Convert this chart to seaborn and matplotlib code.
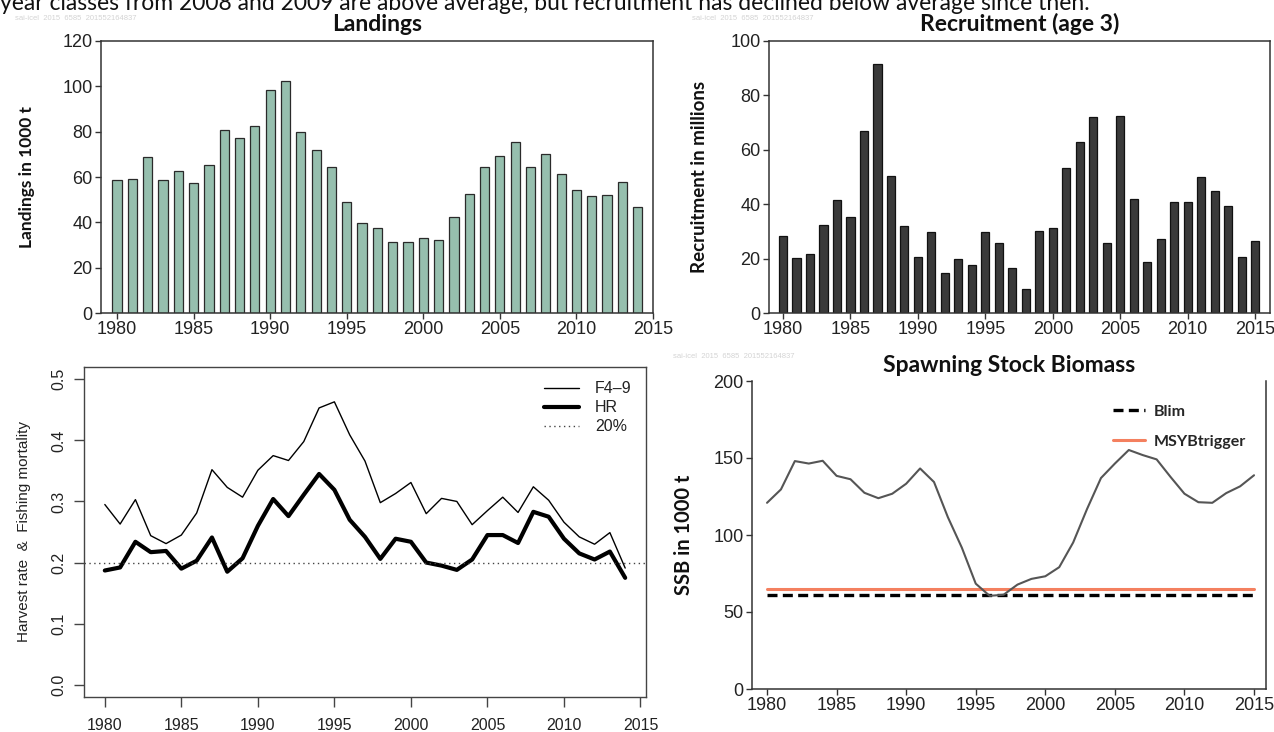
import matplotlib
matplotlib.use("Agg")
import matplotlib.pyplot as plt
import seaborn as sns
import numpy as np
import pandas as pd

# ---------------- data ----------------
land_years = list(range(1980, 2015))
landings = [58.5, 59.3, 68.8, 58.5, 62.8, 57.4, 65.1, 80.9, 77.4, 82.6,
            98.4, 102.5, 79.7, 71.8, 64.6, 48.8, 39.9, 37.4, 31.5, 31.5,
            33.2, 32.2, 42.4, 52.6, 64.6, 69.4, 75.4, 64.6, 70.0, 61.5,
            54.3, 51.5, 52.1, 57.9, 46.6]

rec_years = list(range(1980, 2016))
recruitment = [28.2, 20.2, 21.7, 32.2, 41.7, 35.3, 67.0, 91.5, 50.4, 31.9,
               20.7, 29.8, 14.7, 19.7, 17.8, 29.8, 25.7, 16.7, 8.7, 30.3,
               31.2, 53.4, 62.9, 71.9, 25.7, 72.4, 41.8, 18.8, 27.2, 40.8,
               40.8, 49.9, 44.7, 39.3, 20.7, 26.3]

f_years = list(range(1980, 2015))
f49 = [0.295, 0.263, 0.303, 0.244, 0.231, 0.245, 0.281, 0.352, 0.323, 0.307,
       0.351, 0.375, 0.367, 0.398, 0.453, 0.463, 0.409, 0.366, 0.298, 0.313,
       0.331, 0.280, 0.305, 0.300, 0.262, 0.285, 0.307, 0.282, 0.324, 0.302,
       0.266, 0.242, 0.230, 0.249, 0.191]
hr = [0.187, 0.192, 0.234, 0.217, 0.219, 0.190, 0.203, 0.241, 0.185, 0.207,
      0.260, 0.304, 0.276, 0.311, 0.345, 0.319, 0.270, 0.242, 0.206, 0.239,
      0.234, 0.200, 0.195, 0.188, 0.205, 0.245, 0.245, 0.232, 0.283, 0.275,
      0.239, 0.215, 0.205, 0.218, 0.175]
hr_target = 0.20

ssb_years = list(range(1980, 2016))
ssb = [120.9, 129.6, 148.0, 146.4, 148.2, 138.4, 136.2, 127.4, 123.9, 126.8,
       133.3, 143.2, 134.4, 111.5, 91.8, 68.4, 60.5, 61.2, 67.8, 71.5,
       73.2, 79.1, 95.1, 116.9, 137.0, 146.4, 155.2, 151.9, 149.1, 137.7,
       126.8, 121.3, 120.9, 127.2, 131.6, 138.8]
ref_years = [1980, 2015]
blim = [61, 61]
msy_btrigger = [65, 65]

top_text = ("year classes from 2008 and 2009 are above average, but recruitment "
            "has declined below average since then.")
watermark = "sai-icel  2015  6585  201552164837"

# ---------------- style ----------------
sns.set_theme(style="white")
plt.rcParams['font.family'] = ['Liberation Sans Narrow', 'Liberation Sans', 'DejaVu Sans']

W, H = 1274, 732
fig = plt.figure(figsize=(W / 100, H / 100), dpi=100)

def ax_px(left, top, right, bottom):
    return fig.add_axes([left / W, 1 - bottom / H, (right - left) / W, (bottom - top) / H])

narrow = ['Liberation Sans Narrow', 'Liberation Sans', 'DejaVu Sans']
boldf = ['Lato', 'Open Sans', 'DejaVu Sans']
tick_col = '#222222'
spine_col = '#333333'

def style_top(ax, spines=('left', 'bottom', 'top', 'right')):
    for s in ax.spines:
        ax.spines[s].set_visible(s in spines)
        ax.spines[s].set_color(spine_col)
        ax.spines[s].set_linewidth(1.1)
    ax.tick_params(axis='both', direction='out', length=4, width=1, color=spine_col,
                   labelsize=13, labelcolor=tick_col, pad=2, bottom=True, left=True)
    for lab in ax.get_xticklabels() + ax.get_yticklabels():
        lab.set_family(narrow)

def title(ax, txt, px_above, ax_h):
    ax.text(0.5, 1 + px_above / ax_h, txt, transform=ax.transAxes, ha='center',
            va='baseline', family=boldf, fontweight='bold', fontsize=16.5, color='#111111')

# ---- Landings ----
ax1 = ax_px(101, 41, 653, 313)
df_l = pd.DataFrame({'year': land_years, 'val': landings})
sns.barplot(data=df_l, x='year', y='val', native_scale=True, width=0.6,
            color='#96bfae', saturation=1, edgecolor='#2a2a2a', linewidth=0.9, ax=ax1)
ax1.set_xlim(1978.95, 2015)
ax1.set_ylim(0, 120)
ax1.set_xticks(range(1980, 2016, 5))
ax1.set_yticks(range(0, 121, 20))
ax1.set_xlabel('')
ax1.set_ylabel('Landings in 1000 t', family=boldf, fontweight='bold', fontsize=12.5,
               color='#111111', labelpad=20)
style_top(ax1)
title(ax1, 'Landings', 10, 272)

# ---- Recruitment ----
ax2 = ax_px(769, 41, 1270, 313)
df_r = pd.DataFrame({'year': rec_years, 'val': recruitment})
sns.barplot(data=df_r, x='year', y='val', native_scale=True, width=0.6,
            color='#3a3a3a', saturation=1, edgecolor='#111111', linewidth=0.9, ax=ax2)
ax2.set_xlim(1978.96, 2016.1)
ax2.set_ylim(0, 100)
ax2.set_xticks(range(1980, 2016, 5))
ax2.set_yticks(range(0, 101, 20))
ax2.set_xlabel('')
ax2.set_ylabel('Recruitment in millions', family=boldf, fontweight='bold', fontsize=13.5,
               color='#111111', labelpad=16)
style_top(ax2)
title(ax2, 'Recruitment (age 3)', 10, 272)

# ---- Harvest rate & F ----
ax3 = ax_px(84, 367, 646, 697)
df_f = pd.DataFrame({'year': f_years, 'F4-9': f49, 'HR': hr})
sns.lineplot(data=df_f, x='year', y='F4-9', color='black', linewidth=1.0, ax=ax3, label='F4\u20139')
sns.lineplot(data=df_f, x='year', y='HR', color='black', linewidth=3.0, ax=ax3, label='HR')
ax3.axhline(hr_target, color='#444444', linewidth=1.0, linestyle=(0, (1, 2.5)), label='20%')
ax3.set_xlim(1978.64, 2015.36)
ax3.set_ylim(-0.02, 0.52)
ax3.set_xticks(range(1980, 2016, 5))
ax3.set_yticks(np.arange(0, 0.51, 0.1))
ax3.set_yticklabels([f'{v:.1f}' for v in np.arange(0, 0.51, 0.1)], rotation=90, va='center')
for s in ax3.spines.values():
    s.set_color('#444444')
    s.set_linewidth(1.0)
ax3.tick_params(axis='both', direction='out', length=7, width=1, color='#444444',
                labelsize=11.5, labelcolor='#222222', bottom=True, left=True)
ax3.tick_params(axis='x', pad=8)
ax3.tick_params(axis='y', pad=6)
for lab in ax3.get_xticklabels() + ax3.get_yticklabels():
    lab.set_family(['Liberation Sans', 'DejaVu Sans'])
ax3.set_xlabel('')
ax3.set_ylabel('Harvest rate  &  Fishing mortality', family=['Liberation Sans', 'DejaVu Sans'],
               fontsize=11, color='#222222', labelpad=14)
leg3 = ax3.legend(loc='upper right', frameon=False, handlelength=2.2,
                  handletextpad=1.0, labelspacing=0.25, borderaxespad=0.5,
                  prop={'family': ['Liberation Sans', 'DejaVu Sans'], 'size': 11.5})
for t in leg3.get_texts():
    t.set_color('#222222')

# ---- SSB ----
ax4 = ax_px(752, 381, 1266, 689)
df_s = pd.DataFrame({'year': ssb_years, 'ssb': ssb})
df_ref = pd.DataFrame({'year': ref_years, 'blim': blim, 'msy': msy_btrigger})
sns.lineplot(data=df_ref, x='year', y='msy', color='#f4805f', linewidth=2.2, ax=ax4,
             label='MSYBtrigger')
sns.lineplot(data=df_ref, x='year', y='blim', color='black', linewidth=2.4,
             linestyle=(0, (3, 1.6)), ax=ax4, label='Blim')
sns.lineplot(data=df_s, x='year', y='ssb', color='#555555', linewidth=1.5, ax=ax4)
ax4.set_xlim(1978.92, 2015.86)
ax4.set_ylim(0, 200)
ax4.set_xticks(range(1980, 2016, 5))
ax4.set_yticks(range(0, 201, 50))
ax4.set_xlabel('')
ax4.set_ylabel('SSB in 1000 t', family=boldf, fontweight='bold', fontsize=14.5,
               color='#111111', labelpad=14)
style_top(ax4, spines=('left', 'bottom', 'right'))
h, l = ax4.get_legend_handles_labels()
leg4 = ax4.legend([h[1], h[0]], [l[1], l[0]], loc='upper right', frameon=False,
                  handlelength=2.0, handletextpad=0.6, labelspacing=1.0,
                  bbox_to_anchor=(0.99, 0.97),
                  prop={'family': boldf, 'weight': 'bold', 'size': 11.5})
title(ax4, 'Spawning Stock Biomass', 9, 308)

# ---- watermarks and top text ----
for (x, y) in [(15, 19), (692, 19), (673, 357)]:
    fig.text(x / W, 1 - y / H, watermark, fontsize=5.5, color='#d4d4d4', va='center',
             family=['Liberation Sans', 'DejaVu Sans'])
fig.text(0.0, 1 - 9.5 / H, top_text, ha='left', va='baseline', fontsize=16.5,
         color='#111111', family=['Lato', 'Open Sans', 'DejaVu Sans'])

fig.savefig('out.png', dpi=100)
